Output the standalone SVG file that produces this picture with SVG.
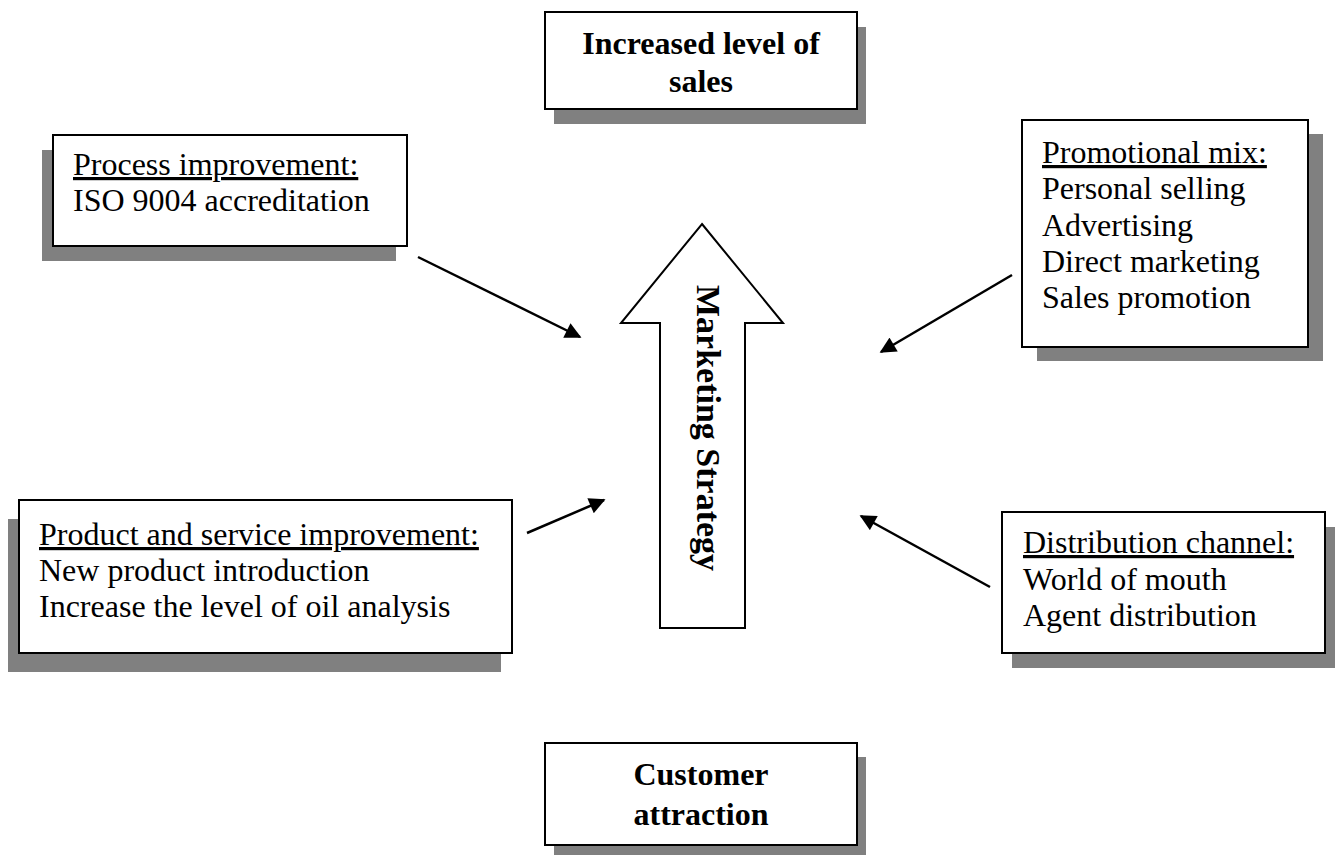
<svg xmlns="http://www.w3.org/2000/svg" width="1335" height="855" viewBox="0 0 1335 855">
<defs>
<style>
.shadow{fill:#808080;stroke:none}
.box{fill:#fff;stroke:#000;stroke-width:2}
.t{font-family:"Liberation Serif","Times New Roman",serif;font-size:32px;fill:#000}
.b{font-weight:bold;text-anchor:middle}
.u{text-decoration:underline}
.conn{stroke:#000;stroke-width:2.5;fill:none;marker-end:url(#ah)}
</style>
<marker id="ah" viewBox="0 0 10 10" refX="9" refY="5" markerWidth="7" markerHeight="6.5" markerUnits="strokeWidth" orient="auto">
<path d="M0,0 L10,5 L0,10 z" fill="#000"/>
</marker>
</defs>
<rect width="1335" height="855" fill="#fff"/>

<g id="sales">
<rect class="shadow" x="554" y="27" width="312" height="97"/>
<rect class="box" x="545" y="12" width="312" height="97"/>
<text class="t b" x="701" y="54">Increased level of</text>
<text class="t b" x="701" y="92">sales</text>
</g>

<g id="process">
<rect class="shadow" x="42" y="150" width="354" height="111"/>
<rect class="box" x="53" y="135" width="354" height="111"/>
<text class="t" x="73" y="175"><tspan class="u">Process improvement:</tspan></text>
<text class="t" x="73" y="211">ISO 9004 accreditation</text>
</g>

<g id="promo">
<rect class="shadow" x="1037" y="134" width="286" height="227"/>
<rect class="box" x="1022" y="120" width="286" height="227"/>
<text class="t" x="1042" y="163"><tspan class="u">Promotional mix:</tspan></text>
<text class="t" x="1042" y="199">Personal selling</text>
<text class="t" x="1042" y="235.5">Advertising</text>
<text class="t" x="1042" y="272">Direct marketing</text>
<text class="t" x="1042" y="308">Sales promotion</text>
</g>

<g id="strategy">
<polygon points="702,224 783,323 745,323 745,628 660,628 660,323 621,323" fill="#fff" stroke="#000" stroke-width="2"/>
<text class="t" style="font-weight:bold;font-size:34px" transform="translate(697,285) rotate(90)">Marketing Strategy</text>
</g>

<g id="product">
<rect class="shadow" x="8" y="519" width="493" height="153"/>
<rect class="box" x="19" y="500" width="493" height="153"/>
<text class="t" x="39" y="545"><tspan class="u">Product and service improvement:</tspan></text>
<text class="t" x="39" y="581">New product introduction</text>
<text class="t" x="39" y="617">Increase the level of oil analysis</text>
</g>

<g id="distribution">
<rect class="shadow" x="1012" y="527" width="323" height="141"/>
<rect class="box" x="1002" y="512" width="323" height="141"/>
<text class="t" x="1023" y="553"><tspan class="u">Distribution channel:</tspan></text>
<text class="t" x="1023" y="589.5">World of mouth</text>
<text class="t" x="1023" y="626">Agent distribution</text>
</g>

<g id="customer">
<rect class="shadow" x="554" y="757" width="312" height="102"/>
<rect class="box" x="545" y="743" width="312" height="102"/>
<text class="t b" x="701" y="785">Customer</text>
<text class="t b" x="701" y="825">attraction</text>
</g>

<g id="connectors">
<line class="conn" x1="418" y1="257" x2="580" y2="337"/>
<line class="conn" x1="1012" y1="275" x2="881" y2="352"/>
<line class="conn" x1="527" y1="533" x2="604" y2="500"/>
<line class="conn" x1="990" y1="587" x2="861" y2="516"/>
</g>
</svg>
